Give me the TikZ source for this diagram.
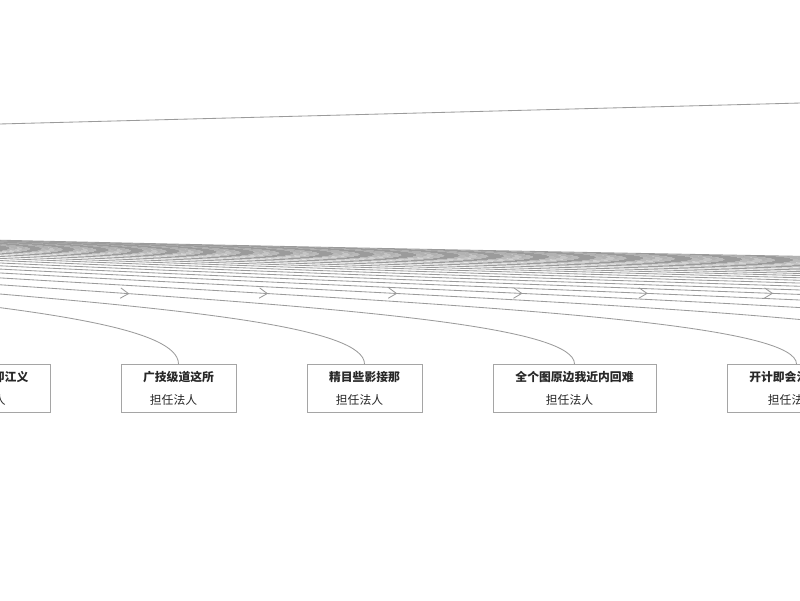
\documentclass[tikz,border=0pt]{standalone}
\usepackage{fontspec}
\newfontfamily\cjk{Noto Sans CJK SC}
\usetikzlibrary{calc, positioning, arrows.meta, decorations.markings}

\definecolor{linkgray}{RGB}{155,155,155}
\definecolor{boxgray}{RGB}{165,165,165}
\definecolor{txtdark}{RGB}{40,40,40}

\tikzset{
  link/.style={draw=linkgray, color=linkgray, line width=0.6pt, postaction={decorate},
    decoration={markings, mark=at position 0.628 with
      {\arrow{Straight Barb[length=2mm,width=2.6mm,line width=0.6pt]}}}},
  orgbox/.style={draw=boxgray, fill=white, line width=0.6pt, anchor=north,
    minimum height=1.2cm, inner sep=0pt},
  boxtitle/.style={font=\cjk\bfseries\fontsize{8.4}{10}\selectfont, text=txtdark},
  boxrole/.style={font=\cjk\fontsize{8.4}{10}\selectfont, text=txtdark},
}

% edge from the parent down to the top of one child
\newcommand{\orgedge}[1]{%
  \draw[link] (parent) .. controls ($(parent)!0.35!(#1)+(0,21.15)$)
    and ($(#1)+(0,-70.5)$) .. (#1);}

\begin{document}
\begin{tikzpicture}[x=0.025cm, y=-0.025cm]
  \useasboundingbox (0,0) rectangle (800,600);
  \clip (0,0) rectangle (800,600);

  \coordinate (parent) at (-640,223);
  \coordinate (upL) at (-100,126.6);
  \coordinate (upR) at (900,100.4);
  \draw[draw=linkgray, line width=0.6pt] (upL) -- (upR);

  % children further right
  \foreach \i in {0,...,24}
    \coordinate (k\i) at (1003+200*\i,364);
  \foreach \i in {0,...,24}{\orgedge{k\i}}

  % visible children
  \node[orgbox, minimum width=3.15cm] (b1) at (-13,364) {};
  \node[orgbox, minimum width=2.875cm] (b2) at (178.5,364) {};
  \node[orgbox, minimum width=2.875cm] (b3) at (364.5,364) {};
  \node[orgbox, minimum width=4.075cm] (b4) at (574.5,364) {};
  \node[orgbox, minimum width=3.475cm] (b5) at (796.5,364) {};

  \foreach \b in {b1,b2,b3,b4,b5}{\orgedge{\b.north}}

  \node[boxtitle] (t1) at ($(b1.north)+(0,13)$) {生产下大即江义};
  \node[boxtitle] (t2) at ($(b2.north)+(0,13)$) {广技级道这所};
  \node[boxtitle] (t3) at ($(b3.north)+(0,13)$) {精目些影接那};
  \node[boxtitle] (t4) at ($(b4.north)+(0,13)$) {全个图原边我近内回难};
  \node[boxtitle] (t5) at ($(b5.north)+(0,13)$) {开计即会法员部见};

  \foreach \b in {b1,b2,b3,b4,b5}
    \node[boxrole] (r\b) at ($(\b.north)+(-5,36)$) {担任法人};
\end{tikzpicture}
\end{document}
